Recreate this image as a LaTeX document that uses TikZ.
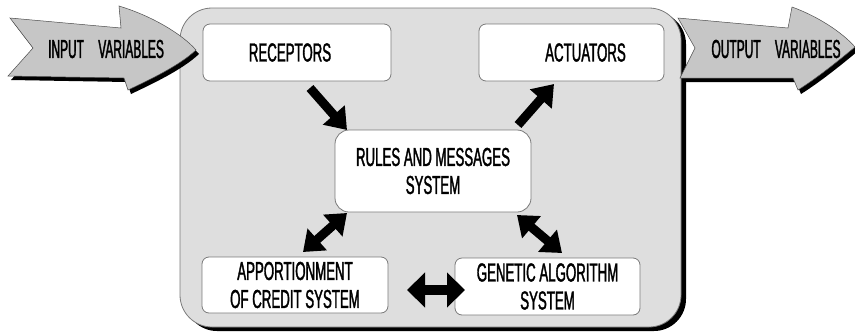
\documentclass[tikz,border=0pt]{standalone}
\usepackage{fontspec}
\setmainfont[FakeStretch=0.51,FakeBold=1.4]{Liberation Sans}
\newfontfamily\arrowfont[FakeStretch=0.46,FakeBold=1.4]{Liberation Sans}
\usetikzlibrary{arrows.meta}
\definecolor{panel}{HTML}{DEDEDE}
\definecolor{arrowgray}{HTML}{C6C6C6}
\definecolor{edgegray}{HTML}{7A7A7A}
\tikzset{
  box/.style={draw=edgegray, line width=0.8pt, fill=white, rounded corners=7pt,
    inner sep=0pt, align=center, font=\fontsize{26}{28}\selectfont},
  blockarrow/.style={line width=9pt, black, -{Triangle[length=20pt,width=28pt]}},
  dblarrow/.style={line width=9pt, black, {Triangle[length=19pt,width=28pt]}-{Triangle[length=19pt,width=28pt]}},
  bigarrow/.style={fill=arrowgray, draw=black!70, line width=0.5pt},
  arrowshadow/.style={fill=black},
  arrowtext/.style={font=\arrowfont\fontsize{26}{26}\selectfont}
}
\begin{document}
\begin{tikzpicture}[x=1pt,y=-1pt]
\useasboundingbox (0,0) rectangle (855,333);
% outer panel with shadow
\fill[black, rounded corners=32pt] (185,12) rectangle (686,331);
\draw[fill=panel, draw=edgegray, line width=0.8pt, rounded corners=32pt] (180,8) rectangle (681,327);

% input arrow
\fill[arrowshadow] (13,22) -- (124,32) -- (122,10) .. controls (155,20) and (185,38) .. (199,54) .. controls (182,70) and (152,84) .. (131,94) -- (127,82) -- (11,80) -- (36,52) -- cycle;
\path[bigarrow] (10,18) -- (121,28) -- (119,6) .. controls (152,16) and (182,34) .. (196,50) .. controls (179,66) and (149,80) .. (128,90) -- (124,78) -- (8,76) -- (33,48) -- cycle;
\node[arrowtext] (inlabel) at (106,49) {INPUT\hspace{0.55em}VARIABLES};

% output arrow
\fill[arrowshadow] (681,22) -- (791,32) -- (795,11) .. controls (820,20) and (845,36) .. (858,51) .. controls (840,66) and (820,82) .. (801,94) -- (796,82) -- (683,82) -- (698,52) -- cycle;
\path[bigarrow] (678,18) -- (788,28) -- (792,7) .. controls (817,16) and (842,32) .. (855,47) .. controls (837,62) and (817,78) .. (798,90) -- (793,78) -- (680,78) -- (695,48) -- cycle;
\node[arrowtext] (outlabel) at (776,49) {OUTPUT\hspace{0.55em}VARIABLES};

% boxes
\node[box, minimum width=188pt, minimum height=57pt] (rec) at (297,52.5) {\hspace{-14pt}RECEPTORS};
\node[box, minimum width=185pt, minimum height=57pt] (act) at (571.5,52.5) {\hspace{28pt}ACTUATORS};
\node[box, rounded corners=14pt, minimum width=196pt, minimum height=82pt] (rules) at (433,171) {RULES AND MESSAGES\\SYSTEM};
\node[box, minimum width=186pt, minimum height=56pt] (apc) at (295,285) {APPORTIONMENT\\OF CREDIT SYSTEM};
\node[box, minimum width=185pt, minimum height=57pt] (gen) at (547.5,286.5) {GENETIC ALGORITHM\\SYSTEM};

% connector end points
\coordinate (a1s) at (310,88);
\coordinate (a1e) at (347,130);
\coordinate (a2s) at (518,125);
\coordinate (a2e) at (554,84);
\coordinate (a3s) at (347,213);
\coordinate (a3e) at (303,252);
\coordinate (a4s) at (517,215);
\coordinate (a4e) at (562,253);
\coordinate (a5s) at (407,290);
\coordinate (a5e) at (465,290);

\draw[blockarrow] (a1s) -- (a1e);
\draw[blockarrow] (a2s) -- (a2e);
\draw[dblarrow] (a3s) -- (a3e);
\draw[dblarrow] (a4s) -- (a4e);
\draw[line width=10pt, black, {Triangle[length=18pt,width=34pt]}-{Triangle[length=18pt,width=34pt]}] (a5s) -- (a5e);
\end{tikzpicture}
\end{document}
